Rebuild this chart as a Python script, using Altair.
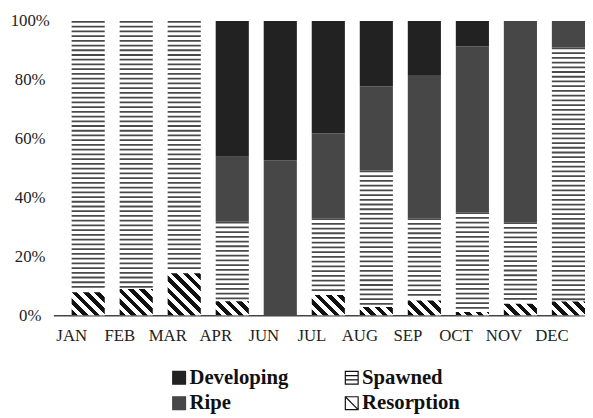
import altair as alt
import pandas as pd

# ---------------- data (percent of each month) ----------------
months = ["JAN", "FEB", "MAR", "APR", "JUN", "JUL", "AUG", "SEP", "OCT", "NOV", "DEC"]
resorption = [7.8, 8.9, 14.3, 4.8, 0.0, 6.9, 2.8, 5.0, 1.1, 3.9, 4.7]
spawned = [92.2, 91.1, 85.7, 27.0, 0.0, 26.1, 46.4, 28.0, 33.9, 27.7, 86.3]
ripe = [0.0, 0.0, 0.0, 22.1, 52.7, 28.8, 28.5, 48.6, 56.3, 68.4, 9.0]
developing = [0.0, 0.0, 0.0, 46.1, 47.3, 38.2, 22.3, 18.4, 8.7, 0.0, 0.0]
y_ticks = [0, 20, 40, 60, 80, 100]
# legend entries fill column by column: (Developing, Ripe) | (Spawned, Resorption)
legend_order = ["Developing", "Ripe", "Spawned", "Resorption"]
stack_names = ["Resorption", "Spawned", "Ripe", "Developing"]

# ---------------- style / layout ----------------
FONT = "Liberation Serif"
DEV = "#222222"
RIPE = "#474747"
INK = "#111111"
LINE = "#4a4a4a"
W, H = 539, 298.4
P_IN, P_OUT = 0.31, 0.19
n = len(months)
band_step = W / (n - P_IN + 2 * P_OUT)
BW = band_step * (1 - P_IN)
PX = H / 100.0  # pixels per percent

stack_vals = [resorption, spawned, ripe, developing]
rows = []
for i, m in enumerate(months):
    acc = 0.0
    for cat, vals in zip(stack_names, stack_vals):
        v = vals[i]
        rows.append({"month": m, "cat": cat, "y0": acc, "y1": acc + v})
        acc += v
df = pd.DataFrame(rows)

# horizontal line texture for "Spawned" (derived from the spawned segments)
line_step = 4.8 / PX
line_thick = 1.8 / PX
line_rows = []
for r in df[df.cat == "Spawned"].itertuples():
    if r.y1 - r.y0 <= 0:
        continue
    top = r.y1
    while top - line_thick > r.y0 + 1.2 / PX:
        line_rows.append({"month": r.month, "y0": top - line_thick, "y1": top})
        top -= line_step
lines_df = pd.DataFrame(line_rows)


def diag_grad(w, h, period, duty, ink=INK, paper="white"):
    total = w + h
    k = (w + h) / (w * w + h * h)
    x2 = k * w
    y2 = 1 - k * h
    stops = []
    j = 0
    while True:
        a = j * period / total
        if a >= 1:
            break
        b = min((j * period + duty * period) / total, 1.0)
        stops += [{"offset": round(a, 4), "color": paper},
                  {"offset": round(a, 4), "color": ink},
                  {"offset": round(b, 4), "color": ink},
                  {"offset": round(b, 4), "color": paper}]
        j += 1
    stops.append({"offset": 1, "color": paper})
    return {"gradient": "linear", "x1": 0, "y1": 1,
            "x2": round(x2, 4), "y2": round(y2, 4), "stops": stops}


hatch_conditions = []
for i, m in enumerate(months):
    if resorption[i] > 0:
        hatch_conditions.append({
            "test": f"datum.month === '{m}'",
            "value": diag_grad(BW, resorption[i] * PX, 11.5, 0.5),
        })

x_enc = alt.X(
    "month:N", sort=months, title=None,
    scale=alt.Scale(paddingInner=P_IN, paddingOuter=P_OUT, align=1),
    axis=alt.Axis(labelAngle=0, labelFont=FONT, labelFontSize=17,
                  labelColor="#222222", labelOffset=-16.7, labelPadding=13,
                  ticks=False, tickSize=0, domain=True, domainColor="#444444",
                  domainWidth=1.5, grid=False),
)
y_enc = alt.Y(
    "y0:Q", title=None,
    scale=alt.Scale(domain=[0, 100], nice=False),
    axis=alt.Axis(values=y_ticks, labelExpr="datum.value + '%'",
                  labelFont=FONT, labelFontSize=17, labelColor="#222222",
                  labelAlign="center", labelBaseline="middle",
                  labelPadding=24, ticks=False, tickSize=0,
                  domain=False, grid=False),
)

base = alt.Chart(df).mark_bar().encode(
    x=x_enc, y=y_enc, y2="y1:Q",
    color=alt.Color("cat:N", scale=alt.Scale(domain=stack_names,
                                             range=["white", "white", RIPE, DEV]),
                    legend=None),
)

hatch = alt.Chart(df).transform_filter(
    "datum.cat === 'Resorption' && datum.y1 > datum.y0"
).mark_bar().encode(
    x=x_enc, y=y_enc, y2="y1:Q",
    fill=alt.value("white", condition=hatch_conditions),
)

stripes = alt.Chart(lines_df).mark_bar(color=LINE).encode(
    x=x_enc, y=y_enc, y2="y1:Q",
)

# legend built from an invisible point layer (symbols: custom paths)
SPAWN_PATH = "M-1,-1H1V1H-1Z M-1,-0.33H1 M-1,0.33H1"
RES_PATH = "M-1,-1H1V1H-1Z M-1,-1L1,1"
legend = alt.Legend(
    title=None, orient="none", legendX=117, legendY=351, columns=2,
    columnPadding=53, rowPadding=4, padding=0,
    symbolSize=169, symbolStrokeWidth=1.2, symbolOpacity=1, labelOffset=0,
    labelFont=FONT, labelFontSize=21, labelFontWeight="bold",
    labelColor="#111111", labelLimit=0,
)
legend_layer = alt.Chart(pd.DataFrame({"cat": legend_order})).mark_point(
    opacity=0, filled=True
).encode(
    fill=alt.Fill("cat:N", scale=alt.Scale(domain=legend_order,
                                           range=[DEV, RIPE, "white", "white"]),
                  legend=legend),
    stroke=alt.Stroke("cat:N", scale=alt.Scale(domain=legend_order,
                                               range=[DEV, RIPE, INK, INK]),
                      legend=legend),
    shape=alt.Shape("cat:N", scale=alt.Scale(domain=legend_order,
                                             range=["square", "square", SPAWN_PATH, RES_PATH]),
                    legend=legend),
)

chart = alt.layer(base, hatch, stripes, legend_layer).properties(
    width=W, height=H,
    autosize=alt.AutoSizeParams(type="none"),
    padding={"left": 46, "top": 10.3, "right": 0, "bottom": 101.3},
).configure_view(stroke=None)

chart.save("out.html", embed_options={"renderer": "svg", "actions": False})
